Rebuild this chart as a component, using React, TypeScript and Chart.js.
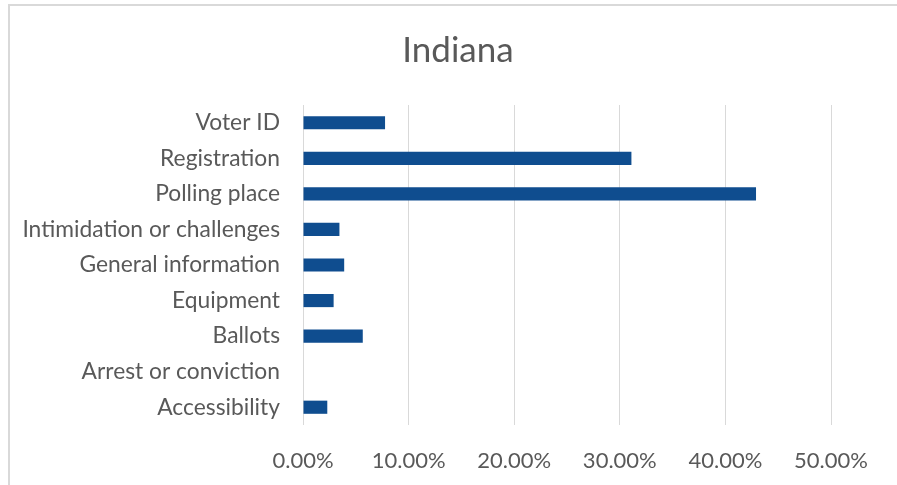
import React, { useEffect, useRef } from "react";
import { Chart, registerables } from "chart.js";

Chart.register(...registerables);

const categories = [
  "Voter ID",
  "Registration",
  "Polling place",
  "Intimidation or challenges",
  "General information",
  "Equipment",
  "Ballots",
  "Arrest or conviction",
  "Accessibility",
];
const shares = [0.0777, 0.311, 0.429, 0.0345, 0.039, 0.029, 0.0566, 0, 0.023];
const xTicks = [0, 0.1, 0.2, 0.3, 0.4, 0.5];

const TEXT = "#595959";
const FONT = "Lato";

const borderPlugin = {
  id: "frameBorder",
  beforeDraw(chart: any) {
    const ctx = chart.ctx;
    ctx.save();
    ctx.fillStyle = "#ffffff";
    ctx.fillRect(0, 0, chart.width, chart.height);
    ctx.fillStyle = "#d9d9d9";
    ctx.fillRect(8, 4, 2, chart.height - 4);
    ctx.fillRect(8, 4, chart.width - 8, 2);
    ctx.restore();
  },
};

export default function App() {
  const ref = useRef<HTMLCanvasElement | null>(null);
  useEffect(() => {
    if (!ref.current) return;
    const chart = new Chart(ref.current, {
      type: "bar",
      data: {
        labels: categories,
        datasets: [
          {
            data: shares,
            backgroundColor: "#0F4D8F",
            borderWidth: 0,
            barPercentage: 0.37,
            categoryPercentage: 1,
          },
        ],
      },
      options: {
        indexAxis: "y",
        animation: false,
        responsive: false,
        layout: { padding: { left: 19, right: 0, top: 0, bottom: 0 } },
        plugins: {
          legend: { display: false },
          tooltip: { enabled: false },
          title: {
            display: true,
            text: "Indiana",
            color: TEXT,
            font: { family: FONT, size: 35, weight: "normal" },
            padding: { top: 29.5, bottom: 33.5 },
          },
        },
        scales: {
          x: {
            min: 0,
            max: 0.5,
            afterBuildTicks(scale: any) {
              scale.ticks = xTicks.map((v) => ({ value: v }));
            },
            afterFit(scale: any) {
              scale.height = 60;
            },
            grid: { color: "#d9d9d9", lineWidth: 1, drawTicks: false },
            border: { display: false },
            ticks: {
              color: TEXT,
              padding: 23,
              font: { family: FONT, size: 22 },
              callback: (v: any) => (Number(v) * 100).toFixed(2) + "%",
            },
          },
          y: {
            afterFit(scale: any) {
              scale.width = 284;
            },
            grid: { display: false, drawTicks: false },
            border: { display: false },
            ticks: {
              color: TEXT,
              padding: 23,
              font: { family: FONT, size: 22.8 },
            },
          },
          yRight: {
            type: "linear",
            position: "right",
            display: true,
            afterFit(scale: any) {
              scale.width = 66;
            },
            grid: { display: false, drawTicks: false },
            border: { display: false },
            ticks: { display: false },
          },
        },
      },
      plugins: [borderPlugin],
    });
    return () => chart.destroy();
  }, []);
  return (
    <div style={{ position: "absolute", left: 0, top: 0, width: 897, height: 485 }}>
      <canvas ref={ref} width={897} height={485} />
    </div>
  );
}
